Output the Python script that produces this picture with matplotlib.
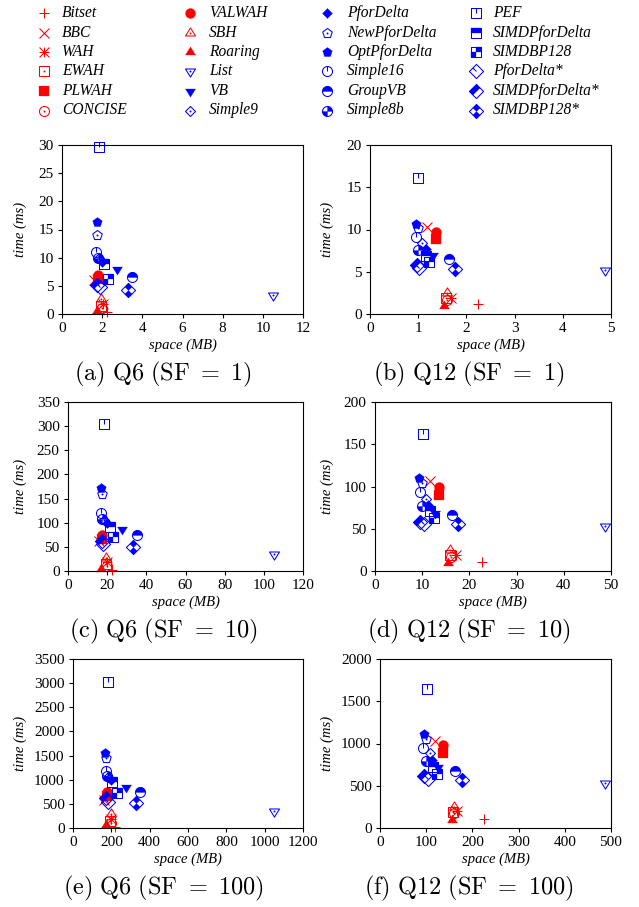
import numpy as np
import matplotlib
matplotlib.use('Agg')
import matplotlib.pyplot as plt
from matplotlib.path import Path
from matplotlib.transforms import Affine2D

plt.rcParams['font.family'] = 'Liberation Serif'
plt.rcParams['mathtext.fontset'] = 'cm'

names = ['Bitset', 'BBC', 'WAH', 'EWAH', 'PLWAH', 'CONCISE', 'VALWAH', 'SBH', 'Roaring',
         'List', 'VB', 'Simple9', 'PforDelta', 'NewPforDelta', 'OptPforDelta', 'Simple16',
         'GroupVB', 'Simple8b', 'PEF', 'SIMDPforDelta', 'SIMDBP128', 'PforDelta*',
         'SIMDPforDelta*', 'SIMDBP128*']

# Q6, SF = 1
q6_sf1_space = [2.25, 1.6, 2.05, 1.95, 1.8, 2.0, 1.8, 1.95, 1.75,
                10.5, 2.75, 1.85, 2.0, 1.75, 1.72, 1.7,
                3.5, 1.8, 1.85, 2.1, 2.3, 1.88, 1.72, 3.3]
q6_sf1_time = [0.3, 6.0, 1.8, 1.4, 6.3, 1.1, 7.0, 2.6, 0.5,
               3.4, 8.0, 9.9, 9.3, 14.0, 16.3, 11.0,
               6.6, 10.0, 29.6, 8.8, 6.3, 4.8, 5.2, 4.3]

# Q12, SF = 1
q12_sf1_space = [2.25, 1.19, 1.69, 1.57, 1.36, 1.59, 1.36, 1.59, 1.53,
                 4.87, 1.30, 1.07, 1.16, 1.0, 0.95, 0.95,
                 1.64, 0.99, 1.0, 1.16, 1.23, 1.02, 0.98, 1.76]
q12_sf1_time = [1.2, 10.25, 1.85, 1.9, 8.9, 1.7, 9.7, 2.5, 1.0,
                5.2, 7.0, 8.45, 7.65, 10.2, 10.65, 9.15,
                6.45, 7.6, 16.05, 6.9, 6.1, 5.5, 5.8, 5.3]

# Q6, SF = 10
q6_sf10_space = [22.3, 16.0, 20.0, 19.5, 17.5, 20.0, 17.5, 19.5, 17.0,
                 105.0, 27.5, 18.5, 20.0, 17.2, 16.8, 16.9,
                 35.0, 17.5, 18.4, 21.5, 22.8, 18.0, 17.2, 33.0]
q6_sf10_time = [2, 62, 18, 14, 66, 11, 75, 27, 4,
                35, 87, 106, 100, 159, 172, 120,
                75, 108, 304, 92, 71, 56, 62, 50]

# Q12, SF = 10
q12_sf10_space = [22.6, 11.65, 17.1, 15.9, 13.6, 16.2, 13.6, 15.9, 15.4,
                  48.7, 12.7, 10.7, 11.3, 9.9, 9.4, 9.5,
                  16.3, 9.9, 10.2, 11.6, 12.4, 10.4, 9.6, 17.6]
q12_sf10_time = [11, 107, 19, 19, 90, 17, 99, 25, 10,
                 53.6, 69, 85, 78, 104, 109.7, 93,
                 66, 76.5, 162, 71, 63, 55.3, 58, 55.3]

# Q6, SF = 100
q6_sf100_space = [219, 160, 200, 195, 178, 200, 178, 198, 170,
                  1049, 276, 185, 200, 172, 167, 170,
                  350, 176, 184, 205, 228, 184, 172, 329]
q6_sf100_time = [14, 580, 180, 140, 660, 110, 750, 300, 60,
                 360, 855, 1050, 1000, 1450, 1560, 1190,
                 752, 1080, 3030, 960, 720, 545, 620, 511]

# Q12, SF = 100
q12_sf100_space = [225, 119, 167, 158, 137, 160, 137, 161, 155,
                   487, 126, 108, 113, 99.5, 96, 94,
                   162, 100, 102, 115, 124, 104, 96, 177]
q12_sf100_time = [106, 1033, 200, 190, 885, 180, 982, 252, 100,
                  529, 718, 890, 800, 1050, 1108, 945,
                  678, 790, 1644, 725, 640, 580, 610, 568]

# ---- gnuplot-like point symbols ----
MV, LN, CL = Path.MOVETO, Path.LINETO, Path.CLOSEPOLY
H = 3.6      # half size of a point symbol (pt)
LW = 0.75    # symbol line width


def poly(pts):
    pts = list(pts)
    return Path(pts + [pts[0]], [MV] + [LN] * (len(pts) - 1) + [CL])


def segs(*lines):
    verts, codes = [], []
    for a, b in lines:
        verts += [a, b]
        codes += [MV, LN]
    return Path(verts, codes)


def join(*paths):
    return Path.make_compound_path(*paths)


rot45 = Affine2D().rotate_deg(45)
circle = Path.unit_circle()
square = poly([(-1, -1), (1, -1), (1, 1), (-1, 1)])
q_ur = poly([(0, 0), (1, 0), (1, 1), (0, 1)])
q_ll = poly([(0, 0), (-1, 0), (-1, -1), (0, -1)])
top_half = poly([(-1, 0), (1, 0), (1, 1), (-1, 1)])
up_line = segs(((0, 0), (0, 1)))
plus = segs(((-1, 0), (1, 0)), ((0, -1), (0, 1)))
cross = segs(((-1, -1), (1, 1)), ((-1, 1), (1, -1)))
tri_up = poly([(0, 1.12), (-1, -0.5), (1, -0.5)])
tri_dn = poly([(0, -1.12), (-1, 0.5), (1, 0.5)])
dia = poly([(-1, 0), (0, 1), (1, 0), (0, -1)])
ang = np.deg2rad(90 + 72 * np.arange(5))
pent = poly(np.column_stack([np.cos(ang), np.sin(ang)]))

RED, BLUE = '#ff0000', '#0000ff'
symbols = {
    'Bitset': (RED, [('line', plus)]),
    'BBC': (RED, [('line', cross)]),
    'WAH': (RED, [('line', join(plus, cross))]),
    'EWAH': (RED, [('line', square), ('dot', None)]),
    'PLWAH': (RED, [('fill', square)]),
    'CONCISE': (RED, [('line', circle), ('dot', None)]),
    'VALWAH': (RED, [('fill', circle)]),
    'SBH': (RED, [('line', tri_up), ('dot', None)]),
    'Roaring': (RED, [('fill', tri_up)]),
    'List': (BLUE, [('line', tri_dn), ('dot', None)]),
    'VB': (BLUE, [('fill', tri_dn)]),
    'Simple9': (BLUE, [('line', dia), ('dot', None)]),
    'PforDelta': (BLUE, [('fill', dia)]),
    'NewPforDelta': (BLUE, [('line', pent), ('dot', None)]),
    'OptPforDelta': (BLUE, [('fill', pent)]),
    'Simple16': (BLUE, [('line', join(circle, up_line))]),
    'GroupVB': (BLUE, [('fill', Path.wedge(0, 180)), ('line', circle)]),
    'Simple8b': (BLUE, [('fill', Path.wedge(0, 90)), ('fill', Path.wedge(180, 270)),
                        ('line', circle)]),
    'PEF': (BLUE, [('line', join(square, up_line))]),
    'SIMDPforDelta': (BLUE, [('fill', top_half), ('line', square)]),
    'SIMDBP128': (BLUE, [('fill', q_ur), ('fill', q_ll), ('line', square)]),
    'PforDelta*': (BLUE, [('line', join(square, up_line).transformed(rot45))]),
    'SIMDPforDelta*': (BLUE, [('fill', top_half.transformed(rot45)),
                              ('line', square.transformed(rot45))]),
    'SIMDBP128*': (BLUE, [('fill', q_ur.transformed(rot45)), ('fill', q_ll.transformed(rot45)),
                          ('line', square.transformed(rot45))]),
}


def draw_symbol(ax, x, y, name):
    color, layers = symbols[name]
    for kind, path in layers:
        if kind == 'dot':
            ax.plot(x, y, ls='none', marker='o', ms=1.4, mfc=color, mew=0, clip_on=False)
            continue
        ms = 2 * np.abs(path.vertices).max() * H
        if kind == 'fill':
            ax.plot(x, y, ls='none', marker=path, ms=ms, mfc=color, mec=color,
                    mew=0.2, clip_on=False)
        else:
            ax.plot(x, y, ls='none', marker=path, ms=ms, mfc='none', mec=color,
                    mew=LW, clip_on=False)


W, HT = 639, 907
fig = plt.figure(figsize=(W / 100, HT / 100), dpi=100)


def px_axes(l, t, r, b):
    return fig.add_axes([l / W, 1 - b / HT, (r - l) / W, (b - t) / HT])


panels = [
    ((62, 145, 303, 314), q6_sf1_space, q6_sf1_time, 12, 2, 30, 5, 'a', 'Q6', '1'),
    ((370, 145, 611, 314), q12_sf1_space, q12_sf1_time, 5, 1, 20, 5, 'b', 'Q12', '1'),
    ((68, 402, 303, 571), q6_sf10_space, q6_sf10_time, 120, 20, 350, 50, 'c', 'Q6', '10'),
    ((375, 402, 611, 571), q12_sf10_space, q12_sf10_time, 50, 10, 200, 50, 'd', 'Q12', '10'),
    ((73, 659, 303, 828), q6_sf100_space, q6_sf100_time, 1200, 200, 3500, 500, 'e', 'Q6', '100'),
    ((380, 659, 611, 828), q12_sf100_space, q12_sf100_time, 500, 100, 2000, 500, 'f', 'Q12', '100'),
]

for box, xs, ys, xmax, xstep, ymax, ystep, tag, query, sf in panels:
    l, t, r, b = box
    ax = px_axes(l, t, r, b)
    for name, x, y in zip(names, xs, ys):
        draw_symbol(ax, [x], [y], name)
    ax.set_xlim(0, xmax)
    ax.set_ylim(0, ymax)
    ax.set_xticks(np.arange(0, xmax + 1e-9, xstep))
    ax.set_yticks(np.arange(0, ymax + 1e-9, ystep))
    ax.tick_params(direction='out', length=3, width=0.8, labelsize=11, pad=3,
                   top=False, right=False)
    for s in ax.spines.values():
        s.set_linewidth(0.8)
    side = 20 if l < 320 else 327
    fig.text(side / W, 1 - (t + b) / 2 / HT, 'time (ms)', rotation=90, style='italic',
             fontsize=10.5, ha='center', va='center')
    fig.text((l + r) / 2 / W, 1 - (b + 31) / HT, 'space (MB)', style='italic',
             fontsize=10.5, ha='center', va='center')
    cx = 163 if l < 320 else 469
    fig.text(cx / W, 1 - (b + 60) / HT,
             r'$\mathrm{(%s)\ %s\ (SF\ =\ %s)}$' % (tag, query, sf),
             fontsize=17.5, ha='center', va='center')

# legend block above the panels
leg = fig.add_axes([0, 1 - 125 / HT, 1, 125 / HT])
leg.set_xlim(0, W)
leg.set_ylim(125, 0)
leg.axis('off')
col_marker = [44, 190, 327, 476]
col_text = [62, 209, 347, 493]
row_y = [13.3, 32.7, 52.2, 71.4, 90.8, 110.5]
for i, name in enumerate(names):
    c, rrow = divmod(i, 6)
    draw_symbol(leg, [col_marker[c]], [row_y[rrow]], name)
    leg.text(col_text[c], row_y[rrow], name, style='italic', fontsize=11.2,
             ha='left', va='center')

fig.savefig('out.png', dpi=100)
